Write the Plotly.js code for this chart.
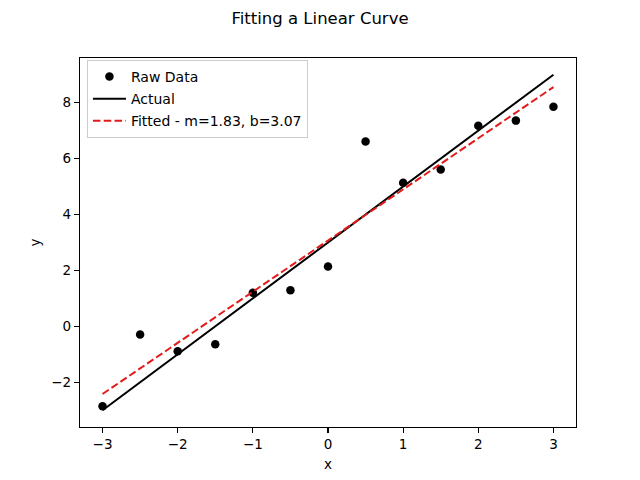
<!DOCTYPE html>
<html>
<head>
<meta charset="utf-8">
<script src="https://cdn.plot.ly/plotly-3.0.1.min.js"></script>
<style>html,body{margin:0;padding:0;background:#fff;}#chart{width:640px;height:480px;}</style>
</head>
<body>
<div id="chart"></div>
<script>
const xData = [-3, -2.5, -2, -1.5, -1, -0.5, 0, 0.5, 1, 1.5, 2, 2.5, 3];
const yRaw = [-2.86, -0.29, -0.89, -0.64, 1.20, 1.29, 2.14, 6.61, 5.14, 5.61, 7.18, 7.36, 7.86];
const yActual = [-3, -2, -1, 0, 1, 2, 3, 4, 5, 6, 7, 8, 9];
const yFitted = [-2.42, -1.505, -0.59, 0.325, 1.24, 2.155, 3.07, 3.985, 4.90, 5.815, 6.73, 7.645, 8.56];
const names = ["Raw Data", "Actual", "Fitted - m=1.83, b=3.07"];
const xTicks = [-3, -2, -1, 0, 1, 2, 3];
const yTicks = [-2, 0, 2, 4, 6, 8];

const font = "DejaVu Sans, sans-serif";
const traces = [
  {x: xData, y: yRaw, mode: "markers", type: "scatter", name: names[0], legendgroup: "a",
   marker: {color: "black", size: 8.5}},
  {x: xData, y: yActual, mode: "lines", type: "scatter", name: names[1], legendgroup: "b",
   line: {color: "black", width: 2}},
  {x: xData, y: yFitted, mode: "lines", type: "scatter", name: names[2], legendgroup: "c",
   line: {color: "#e31a1a", width: 2, dash: "7.5px,3.3px"}}
];
const axisCommon = {
  showline: true, mirror: true, linecolor: "black", linewidth: 1.1,
  ticks: "outside", ticklen: 5, tickwidth: 1.1, tickcolor: "black",
  showgrid: false, zeroline: false,
  tickfont: {family: font, size: 13.5, color: "black"}
};
const layout = {
  width: 640, height: 480,
  paper_bgcolor: "white", plot_bgcolor: "white",
  margin: {l: 80, r: 64, t: 58, b: 53},
  title: {text: "Fitting a Linear Curve", x: 0.5, xanchor: "center", y: 0.962, yanchor: "middle",
          font: {family: font, size: 16.5, color: "black"}},
  xaxis: Object.assign({}, axisCommon, {range: [-3.3, 3.3], tickvals: xTicks,
          title: {text: "x", font: {family: font, size: 13.5, color: "black"}, standoff: 8}}),
  yaxis: Object.assign({}, axisCommon, {range: [-3.6, 9.6], tickvals: yTicks,
          title: {text: "y", font: {family: font, size: 13.5, color: "black"}, standoff: 7}}),
  showlegend: true,
  legend: {x: 0.014, y: 0.995, xanchor: "left", yanchor: "top",
           traceorder: "grouped", tracegroupgap: 1,
           bgcolor: "rgba(255,255,255,0.8)", bordercolor: "#cccccc", borderwidth: 1,
           font: {family: font, size: 14, color: "black"}, itemwidth: 33}
};
Plotly.newPlot("chart", traces, layout, {displayModeBar: false, staticPlot: true});
</script>
</body>
</html>
